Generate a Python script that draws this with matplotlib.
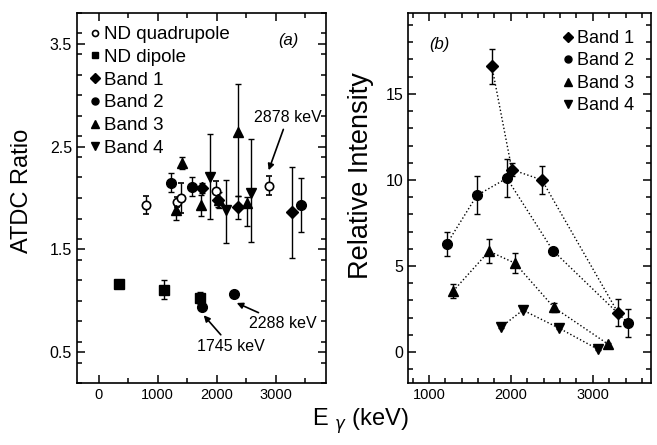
import copy
import numpy as np
import matplotlib
matplotlib.use("Agg")
import matplotlib.pyplot as plt
from matplotlib.ticker import MultipleLocator, FixedLocator

plt.rcParams["font.family"] = ["Liberation Sans", "DejaVu Sans"]
plt.rcParams["mathtext.fontset"] = "dejavusans"

# ---- panel (a): ATDC ratios ----
ndq_e = [797, 1335, 1390, 1990, 2878]
ndq_r = [1.93, 1.96, 2.00, 2.07, 2.12]
ndq_err = [0.09, 0.05, 0.15, 0.10, 0.09]

ndd_e = [340, 1100, 1711]
ndd_r = [1.16, 1.11, 1.03]
ndd_err = [0.02, 0.09, 0.06]

a_b1_e = [1746, 2017, 2356, 3271]
a_b1_r = [2.10, 1.98, 1.91, 1.86]
a_b1_err = [0.05, 0.07, 0.11, 0.44]

a_b2_e = [1220, 1576, 1745, 2288, 3424]
a_b2_r = [2.15, 2.11, 0.94, 1.07, 1.93]
a_b2_err = [0.09, 0.09, 0.03, 0.03, 0.26]

a_b3_e = [1305, 1407, 1729, 2034, 2356, 2510]
a_b3_r = [1.88, 2.34, 1.93, 1.98, 2.64, 1.95]
a_b3_lo = [0.09, 0.06, 0.10, 0.08, 0.62, 0.22]
a_b3_hi = [0.09, 0.06, 0.10, 0.08, 0.47, 0.06]

a_b4_e = [1881, 2150, 2576]
a_b4_r = [2.20, 1.88, 2.05]
a_b4_lo = [0.40, 0.32, 0.48]
a_b4_hi = [0.42, 0.30, 0.52]

# ---- panel (b): relative intensities ----
b_b1_e = [1768, 2012, 2378, 3305]
b_b1_i = [16.6, 10.6, 10.0, 2.3]
b_b1_err = [1.0, 0.4, 0.8, 0.8]

b_b2_e = [1220, 1585, 1951, 2512, 3427]
b_b2_i = [6.3, 9.1, 10.1, 5.9, 1.7]
b_b2_err = [0.7, 1.1, 1.1, 0.1, 0.8]

b_b3_e = [1296, 1733, 2049, 2524, 3183]
b_b3_i = [3.55, 5.86, 5.17, 2.6, 0.47]
b_b3_err = [0.4, 0.7, 0.6, 0.25, 0.05]

b_b4_e = [1878, 2146, 2585, 3061]
b_b4_i = [1.45, 2.44, 1.4, 0.17]
b_b4_err = [0.05, 0.05, 0.05, 0.05]

fig = plt.figure(figsize=(6.57, 4.45), dpi=100)
ax_a = fig.add_axes([0.117, 0.139, 0.379, 0.832])
ax_b = fig.add_axes([0.621, 0.139, 0.370, 0.832])

ebkw = dict(ls="none", color="black", ecolor="black", elinewidth=1.0,
            capsize=2.5, capthick=1.0)

ax_a.errorbar(ndq_e, ndq_r, yerr=ndq_err, marker="o", ms=6, mfc="white",
              mew=1.2, label="ND quadrupole", **ebkw)
ax_a.errorbar(ndd_e, ndd_r, yerr=ndd_err, marker="s", ms=6.5,
              label="ND dipole", **ebkw)
ax_a.errorbar(a_b1_e, a_b1_r, yerr=a_b1_err, marker="D", ms=6.5,
              label="Band 1", **ebkw)
ax_a.errorbar(a_b2_e, a_b2_r, yerr=a_b2_err, marker="o", ms=7,
              label="Band 2", **ebkw)
ax_a.errorbar(a_b3_e, a_b3_r, yerr=[a_b3_lo, a_b3_hi], marker="^", ms=7.5,
              label="Band 3", **ebkw)
ax_a.errorbar(a_b4_e, a_b4_r, yerr=[a_b4_lo, a_b4_hi], marker="v", ms=7.5,
              label="Band 4", **ebkw)

ax_a.set_xlim(-370, 3850)
ax_a.set_ylim(0.2, 3.8)
ax_a.xaxis.set_major_locator(MultipleLocator(1000))
ax_a.xaxis.set_minor_locator(MultipleLocator(500))
ax_a.yaxis.set_major_locator(FixedLocator([0.5, 1.5, 2.5, 3.5]))
ax_a.yaxis.set_minor_locator(MultipleLocator(0.2))
ax_a.set_ylabel("ATDC Ratio", fontsize=17)
ax_a.yaxis.set_label_coords(-0.175, 0.52)
ax_a.text(0.85, 0.925, "(a)", transform=ax_a.transAxes, fontsize=12,
          style="italic", ha="center", va="center")

arrkw = dict(arrowstyle="-|>", color="black", lw=1.2, mutation_scale=9,
             shrinkA=1, shrinkB=0)
ax_a.annotate("2878 keV", xy=(2880, 2.27), xytext=(3200, 2.78),
              fontsize=11.5, ha="center", va="center", arrowprops=arrkw)
ax_a.annotate("2288 keV", xy=(2339, 0.98), xytext=(3119, 0.78),
              fontsize=11.5, ha="center", va="center", arrowprops=arrkw)
ax_a.annotate("1745 keV", xy=(1780, 0.86), xytext=(2237, 0.56),
              fontsize=11.5, ha="center", va="center", arrowprops=arrkw)

h_a, l_a = ax_a.get_legend_handles_labels()
ax_a.legend([h[0] for h in h_a], l_a, loc="upper left", frameon=False,
            fontsize=13.5, handlelength=0.5, handletextpad=0.25,
            borderaxespad=0.3, labelspacing=0.3, markerscale=0.72,
            borderpad=0.4)

# panel (b)
lkw = dict(ls=":", lw=1.0, color="black", ecolor="black", elinewidth=1.0,
           capsize=2.5, capthick=1.0)
ax_b.errorbar(b_b1_e, b_b1_i, yerr=b_b1_err, marker="D", ms=6.5,
              label="Band 1", **lkw)
ax_b.errorbar(b_b2_e, b_b2_i, yerr=b_b2_err, marker="o", ms=7,
              label="Band 2", **lkw)
ax_b.errorbar(b_b3_e, b_b3_i, yerr=b_b3_err, marker="^", ms=7.5,
              label="Band 3", **lkw)
ax_b.errorbar(b_b4_e, b_b4_i, yerr=b_b4_err, marker="v", ms=7.5,
              label="Band 4", **lkw)

ax_b.set_xlim(745, 3710)
ax_b.set_ylim(-1.8, 19.7)
ax_b.xaxis.set_major_locator(MultipleLocator(1000))
ax_b.xaxis.set_minor_locator(MultipleLocator(200))
ax_b.yaxis.set_major_locator(MultipleLocator(5))
ax_b.yaxis.set_minor_locator(MultipleLocator(1))
ax_b.set_ylabel("Relative Intensity", fontsize=19.5)
ax_b.yaxis.set_label_coords(-0.14, 0.56)
ax_b.text(0.13, 0.915, "(b)", transform=ax_b.transAxes, fontsize=12,
          style="italic", ha="center", va="center")

h_b, l_b = ax_b.get_legend_handles_labels()
hs = []
for h in h_b:
    hh = copy.copy(h[0])
    hh.set_linestyle("none")
    hs.append(hh)
ax_b.legend(hs, l_b, loc="upper right", frameon=False, fontsize=13,
            handlelength=0.5, handletextpad=0.25, borderaxespad=0.4,
            labelspacing=0.3, markerscale=0.72, borderpad=0.55)

for ax in (ax_a, ax_b):
    for sp in ax.spines.values():
        sp.set_linewidth(1.2)
    ax.tick_params(which="both", direction="in", top=True, right=True,
                   width=1.1)
    ax.tick_params(axis="x", labelsize=10.5)
    ax.tick_params(axis="y", labelsize=11.5)
    ax.tick_params(which="major", length=5.5)
    ax.tick_params(which="minor", length=3.5)

fig.text(0.548, 0.054, r"E $_\gamma$ (keV)", fontsize=17, ha="center",
         va="center")

fig.savefig("out.png", dpi=100, facecolor="white")
